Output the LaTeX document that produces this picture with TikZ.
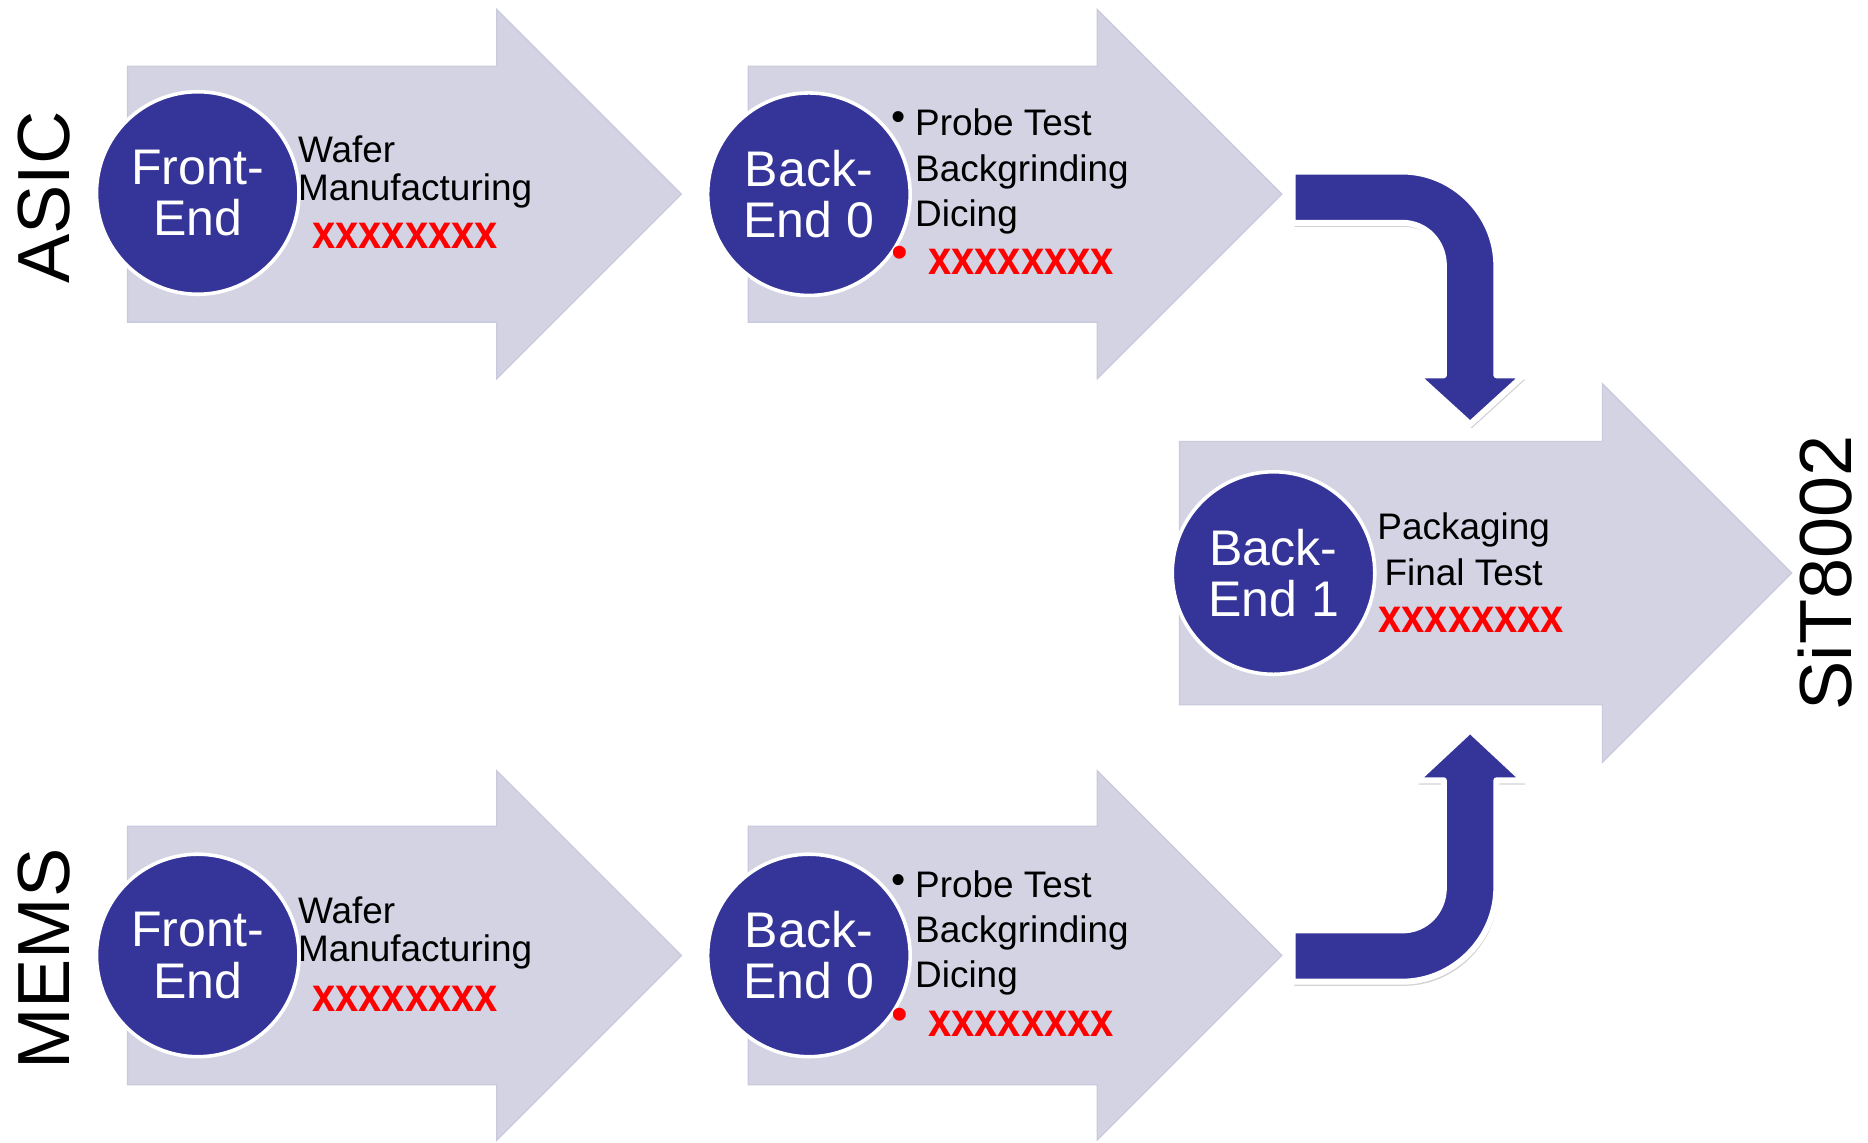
\documentclass[tikz,border=0pt]{standalone}
\usepackage{fontspec}
\setmainfont{Liberation Sans}
\usetikzlibrary{shadows}
\definecolor{stagegray}{RGB}{211,211,227}
\definecolor{stageedge}{RGB}{202,202,222}
\definecolor{stepblue}{RGB}{53,53,153}
\tikzset{
	stagearrow/.style={fill=stagegray, draw=stageedge, line width=1pt},
	stepcircle/.style={circle, fill=stepblue, draw=white, line width=3pt, minimum size=170pt, inner sep=0pt, text=white, align=center, font=\fontsize{42}{43}\selectfont},
	tasktext/.style={anchor=west, align=left, inner sep=0pt, font=\fontsize{31}{38}\selectfont},
	redmark/.style={anchor=west, inner sep=0pt, text=red, font=\fontsize{35}{36}\selectfont\bfseries},
	dotmark/.style={inner sep=0pt, font=\fontsize{34}{34}\selectfont},
	flowlabel/.style={rotate=90, inner sep=0pt, font=\fontsize{62}{62}\selectfont},
	bentarrow/.style={fill=stepblue, draw=white, line width=5pt, line join=round, drop shadow={opacity=0.35, shadow xshift=1.5pt, shadow yshift=-3.5pt}}
}
\newcommand{\costx}{\scalebox{1}[1.15]{xxxxxxxx}}
\begin{document}
\begin{tikzpicture}[x=1pt, y=-1pt]
	\useasboundingbox (0,0) rectangle (1568,959);
	% big stage arrows: left x / body length / centre y / body half / head half
	\foreach \x/\b/\c/\w/\h in {107/310/163/107.5/155, 628/293/163/107.5/155, 990/355/481/110.5/159, 107/310/802/108.5/155, 628/293/802/108.5/155}
		\filldraw[stagearrow] (\x,\c-\w) -- (\x+\b,\c-\w) -- (\x+\b,\c-\h) -- (\x+\b+\h,\c) -- (\x+\b,\c+\h) -- (\x+\b,\c+\w) -- (\x,\c+\w) -- cycle;

	% bent arrows into back-end 1
	\filldraw[bentarrow] (1085,144) -- (1177,144) .. controls (1220,144) and (1256,180) .. (1256,223) -- (1256,315) -- (1279,315) -- (1234,356) -- (1189,315) -- (1212,315) -- (1212,223) .. controls (1212,203) and (1197,187) .. (1177,187) -- (1085,187) -- cycle;
	\filldraw[bentarrow] (1085,781) -- (1177,781) .. controls (1197,781) and (1212,765) .. (1212,745) -- (1212,655) -- (1189,655) -- (1234,613) -- (1279,655) -- (1256,655) -- (1256,745) .. controls (1256,788) and (1220,824) .. (1177,824) -- (1085,824) -- cycle;

	% ASIC
	\node[flowlabel] (asic) at (37,166) {ASIC};
	\node[stepcircle] (asicfe) at (166,162) {Front-\\End};
	\node[tasktext, font=\fontsize{31}{32}\selectfont] (asicfetask) at (250,144) {Wafer\\Manufacturing};
	\node[redmark] (asicfecost) at (262,198) {\costx};
	\node[stepcircle] (asicbe) at (679,163) {Back-\\End 0};
	\node[tasktext] (asicbetask) at (768,144) {Probe Test\\Backgrinding\\Dicing};
	\node[dotmark] (asicbedot) at (754,102) {\textbullet};
	\node[dotmark, text=red, font=\fontsize{40}{40}\selectfont] (asicbereddot) at (755,216) {\textbullet};
	\node[redmark] (asicbecost) at (779,220) {\costx};

	% MEMS
	\node[flowlabel] (mems) at (37,805) {MEMS};
	\node[stepcircle] (memsfe) at (166,802) {Front-\\End};
	\node[tasktext, font=\fontsize{31}{32}\selectfont] (memsfetask) at (250,783) {Wafer\\Manufacturing};
	\node[redmark] (memsfecost) at (262,838) {\costx};
	\node[stepcircle] (memsbe) at (679,802) {Back-\\End 0};
	\node[tasktext] (memsbetask) at (768,783) {Probe Test\\Backgrinding\\Dicing};
	\node[dotmark] (memsbedot) at (754,742) {\textbullet};
	\node[dotmark, text=red, font=\fontsize{40}{40}\selectfont] (memsbereddot) at (755,856) {\textbullet};
	\node[redmark] (memsbecost) at (779,859) {\costx};

	% back-end 1
	\node[stepcircle] (pkgbe) at (1069,481) {Back-\\End 1};
	\node[tasktext, align=center, font=\fontsize{31}{39}\selectfont] (pkgtask) at (1156,461) {Packaging\\Final Test};
	\node[redmark] (pkgcost) at (1157,520) {\costx};
	\node[flowlabel] (product) at (1532,481) {SiT8002};
\end{tikzpicture}
\end{document}
